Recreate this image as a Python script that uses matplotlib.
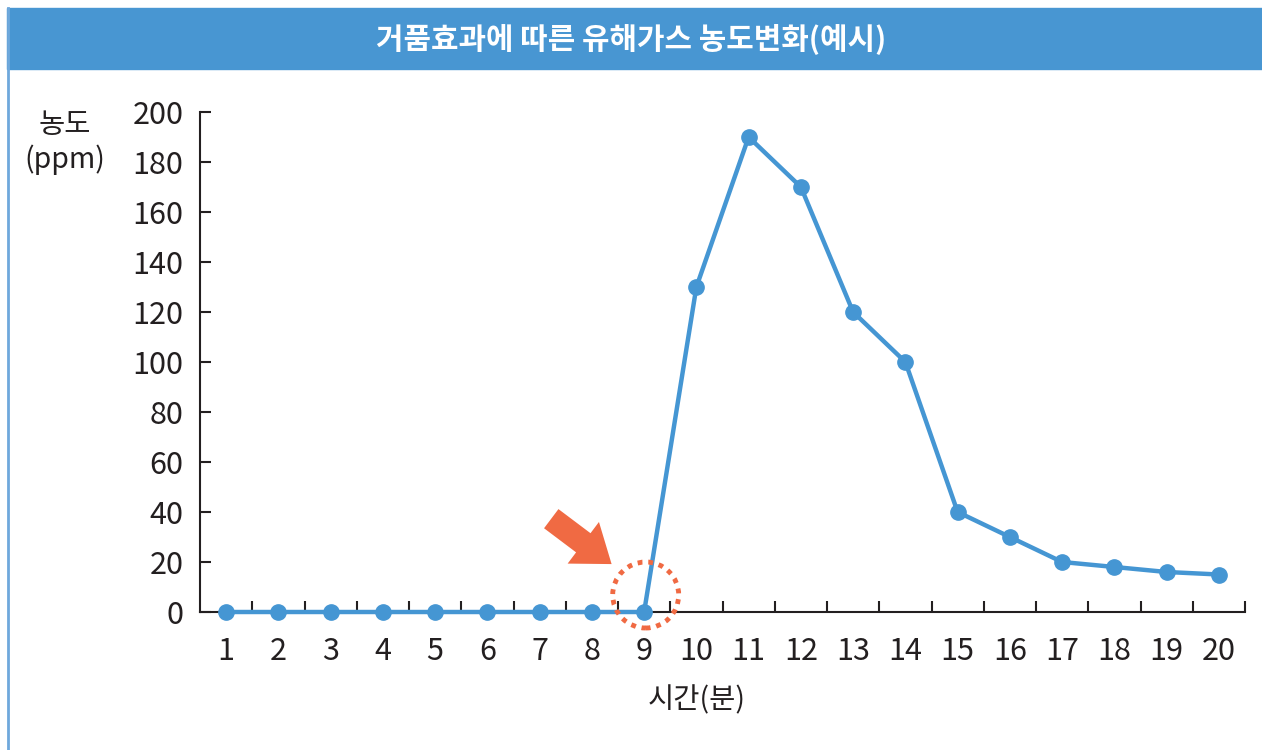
import matplotlib
matplotlib.use('Agg')
import matplotlib.pyplot as plt
from matplotlib.patches import Rectangle, Ellipse, FancyArrowPatch
from matplotlib.lines import Line2D

plt.rcParams['font.family'] = ['Noto Sans CJK KR', 'DejaVu Sans']

# 데이터
minutes = list(range(1, 21))
ppm = [0, 0, 0, 0, 0, 0, 0, 0, 0, 130, 190, 170, 120, 100, 40, 30, 20, 18, 16, 15]
y_ticks = list(range(0, 201, 20))
title = '거품효과에 따른 유해가스 농도변화(예시)'

blue = '#4596D3'
dark = '#231F20'
orange = '#F06A43'

fig = plt.figure(figsize=(12.62, 7.5), dpi=100)

# 제목 막대와 왼쪽 테두리
fig.patches.append(Rectangle((7 / 1262, 1 - 69 / 750), 1, 61 / 750,
                             transform=fig.transFigure, color='#4896D2', zorder=0))
fig.lines.append(Line2D([8 / 1262, 8 / 1262], [0, 1 - 8 / 750],
                        transform=fig.transFigure, color='#6FA8DC', lw=2))
fig.text(0.5, 1 - 39 / 750, title, color='white', fontsize=21.5, fontweight='bold',
         ha='center', va='center')

ax = fig.add_axes([200 / 1262, 138 / 750, 1045 / 1262, 500 / 750])
ax.plot(minutes, ppm, color=blue, lw=3.2, marker='o', markersize=11, clip_on=False, zorder=3)

ax.set_xlim(0.5, 20.5)
ax.set_ylim(0, 200)
ax.spines['top'].set_visible(False)
ax.spines['right'].set_visible(False)
for s in ['left', 'bottom']:
    ax.spines[s].set_linewidth(1.5)
    ax.spines[s].set_color(dark)

ax.set_xticks(minutes)
ax.set_xticks([m + 0.5 for m in minutes], minor=True)
ax.tick_params(axis='x', which='major', length=0, pad=17, labelsize=22, labelcolor=dark)
ax.tick_params(axis='x', which='minor', direction='in', length=8, width=1.5, color=dark)
ax.set_yticks(y_ticks)
ax.tick_params(axis='y', direction='in', length=8, width=1.5, color=dark,
               pad=12, labelsize=22, labelcolor=dark)

fig.text(65 / 1262, 1 - 125 / 750, '농도', fontsize=20.5, color=dark, ha='center', va='center')
fig.text(65 / 1262, 1 - 160 / 750, '(ppm)', fontsize=20.5, color=dark, ha='center', va='center')
fig.text(697 / 1262, 1 - 700 / 750, '시간(분)', fontsize=20.5, color=dark, ha='center', va='center')

# 강조 표시 (점선 원과 화살표)
ax.add_patch(Ellipse((9.03, 6.8), 66 / 52.25, 66 / 2.5, fill=False, edgecolor=orange,
                     lw=3.5, linestyle=(0, (1, 1.2)), clip_on=False, zorder=4))
ax.add_patch(FancyArrowPatch((7.18, 38), (8.42, 18.5),
                             arrowstyle='simple,head_width=2.5,head_length=1.7,tail_width=1.15',
                             mutation_scale=15, color=orange, lw=0, clip_on=False, zorder=4))

fig.savefig('out.png', dpi=100)
